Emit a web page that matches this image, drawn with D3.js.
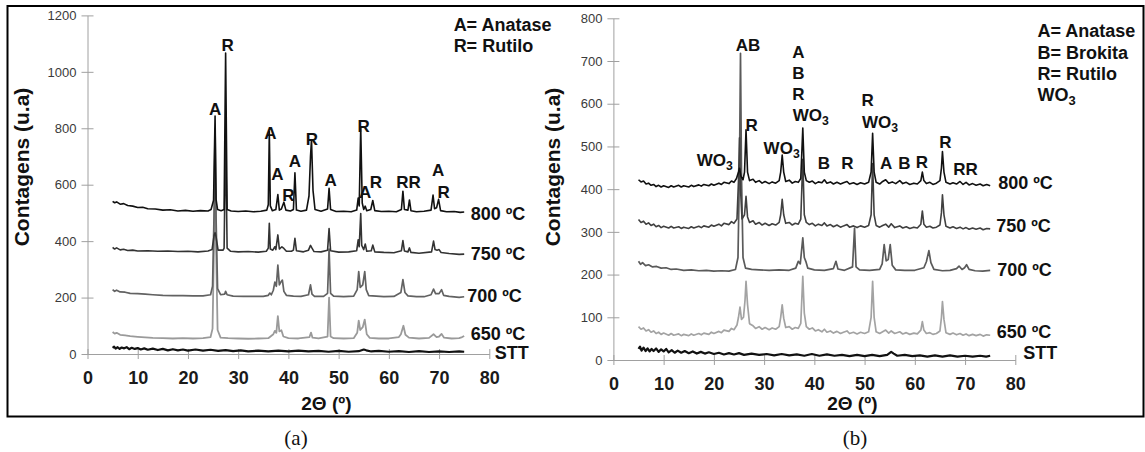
<!DOCTYPE html>
<html><head><meta charset="utf-8">
<script src="https://cdn.jsdelivr.net/npm/d3@7"></script>
<style>
body{margin:0;background:#fff}
svg{display:block}
</style>
</head><body>
<svg id="c" width="1145" height="452" font-family="Liberation Sans, Arial, sans-serif"></svg>
<script>
// ---------------- DATA ----------------
const thetaTicks = [0, 10, 20, 30, 40, 50, 60, 70, 80];
const countTicksA = [0, 200, 400, 600, 800, 1000, 1200];
const countTicksB = [0, 100, 200, 300, 400, 500, 600, 700, 800];
const seriesNames = ["800 ºC", "750 ºC", "700 ºC", "650 ºC", "STT"];

// Panel (a): [2θ, counts]
const a800 = [[5,541],[5.4,536],[5.8,539],[6.5,531],[7.2,533],[8,526],[9,524],[10,519],[11,520],[12,515],[13.5,514],[15,510],[16.5,511],[18,507],[19.5,509],[21,506],[22.5,508],[24,507],[24.6,512],[25.1,545],[25.4,843],[25.6,548],[25.9,512],[26.6,508],[27.2,512],[27.5,1067],[27.8,512],[28.6,507],[30,505],[31.5,507],[33,504],[34.5,506],[35.7,510],[36.0,530],[36.2,788],[36.4,525],[36.8,508],[37.5,512],[37.9,565],[38.2,510],[38.6,514],[39.1,538],[39.5,510],[40.4,507],[41.0,512],[41.3,642],[41.6,510],[42.5,506],[43.6,510],[44.1,560],[44.4,700],[44.6,759],[44.9,580],[45.3,512],[46.5,506],[47.8,514],[48.1,587],[48.4,512],[49.5,505],[51,506],[52.5,504],[53.6,510],[53.9,553],[54.1,525],[54.4,802],[54.7,535],[55.0,512],[55.3,524],[55.6,508],[56.4,512],[56.8,544],[57.2,508],[58.5,505],[60,506],[61.5,504],[62.5,512],[62.8,577],[63.1,512],[63.8,510],[64.1,546],[64.4,508],[65.5,504],[67,506],[68.4,510],[68.8,563],[69.1,515],[69.5,518],[69.9,548],[70.3,508],[71.5,504],[73,505],[74.2,502],[75,503]];
const a750 = [[5,378],[5.4,372],[5.8,376],[6.5,369],[7.2,371],[8,367],[9,368],[10,365],[12,366],[14,364],[16,365],[18,363],[20,364],[22,362],[24,365],[24.8,370],[25.2,420],[25.4,430],[25.6,415],[26,368],[27,368],[27.2,375],[27.5,780],[27.8,375],[28.5,364],[30,362],[32,363],[34,361],[35.6,364],[36.0,375],[36.2,463],[36.4,372],[36.9,368],[37.3,380],[37.5,370],[37.9,422],[38.2,372],[38.7,380],[39.1,374],[39.6,364],[40.6,364],[41.0,368],[41.3,410],[41.6,366],[43,362],[44.0,368],[44.4,385],[44.7,375],[45.1,363],[46.5,362],[47.8,368],[48.1,445],[48.4,366],[50,361],[52,362],[53.6,366],[53.9,405],[54.1,380],[54.4,498],[54.6,385],[55,370],[55.3,390],[55.6,364],[56.5,366],[56.8,386],[57.2,362],[59,360],[61,359],[62.5,366],[62.8,402],[63.1,365],[63.8,362],[64.1,376],[64.4,360],[66,357],[68.5,362],[68.9,400],[69.2,370],[69.6,368],[70.0,370],[70.4,360],[72,356],[74,353],[75,354]];
const a700 = [[5,228],[5.4,222],[5.8,226],[6.5,220],[7.5,219],[8.5,215],[10,214],[11.5,212],[13,210],[15,208],[17,207],[19,207],[21,206],[23,206],[24.5,210],[24.9,240],[25.2,500],[25.4,800],[25.6,480],[25.9,232],[26.5,210],[27.3,212],[27.5,222],[27.8,210],[29,205],[31,204],[33,204],[35,204],[36.0,208],[36.3,216],[36.6,210],[37.0,226],[37.3,255],[37.6,240],[37.9,315],[38.2,245],[38.5,255],[38.8,262],[39.1,222],[39.6,208],[41,205],[42.5,204],[44.0,210],[44.4,245],[44.7,212],[45.2,204],[47,204],[47.8,215],[48.1,372],[48.4,215],[49,205],[51,203],[53,205],[53.7,228],[54.0,292],[54.3,236],[54.8,245],[55.2,292],[55.5,228],[56,207],[57.5,205],[59,203],[61,204],[62.4,218],[62.8,264],[63.2,218],[63.8,206],[65.5,203],[67,203],[68.4,210],[68.9,230],[69.3,214],[70.0,214],[70.5,228],[70.9,208],[72,204],[74,201],[75,203]];
const a650 = [[5,78],[5.4,72],[5.8,75],[6.5,68],[7.5,66],[8.5,63],[10,61],[11.5,59],[13,57],[15,56],[17,55],[19,56],[21,55],[23,56],[24.5,60],[24.9,90],[25.2,400],[25.4,650],[25.6,380],[25.9,85],[26.5,58],[28,56],[30,55],[32,54],[34,55],[36,56],[37.0,70],[37.3,82],[37.6,75],[37.9,134],[38.2,80],[38.6,84],[39,62],[40,56],[42,55],[44.2,60],[44.5,76],[44.8,58],[46,55],[47.8,62],[48.1,200],[48.4,62],[49,56],[51,55],[53,56],[53.7,75],[54.0,118],[54.3,85],[54.8,95],[55.2,122],[55.6,70],[56.2,57],[58,55],[60,55],[62,60],[62.4,70],[62.9,100],[63.3,68],[64,58],[66,55],[68,57],[68.9,70],[69.5,60],[70.0,62],[70.5,71],[71,58],[72.5,55],[74,56],[74.6,60],[75,64]];
const aSTT = [[5,22],[5.3,26],[5.6,19],[6,24],[6.4,18],[6.8,23],[7.3,20],[7.8,24],[8.3,17],[8.8,22],[9.4,18],[10,21],[10.6,16],[11.3,20],[12,15],[13,19],[14,14],[15,18],[16,13],[17,17],[18,13],[19,16],[20,12],[21.5,16],[23,12],[24.5,15],[26,11],[27.5,14],[29,10],[30.5,13],[32,9],[34,12],[36,9],[38,12],[40,9],[42,12],[44,9],[46,11],[48,8],[50,11],[52,8],[54,10],[55,16],[55.5,13],[56.5,9],[58,11],[60,8],[62,10],[64,7],[66,10],[68,7],[70,9],[72,7],[74,9],[75,8]];

// Panel (b): [2θ, counts]
const b800 = [[5,422],[5.5,417],[6,419],[6.5,412],[7,414],[7.5,409],[8,411],[8.5,406],[9,409],[9.5,405],[10,408],[11,404],[11.5,408],[12,405],[13,409],[13.5,405],[14,408],[15,405],[15.5,409],[16,406],[17,410],[17.5,407],[18,411],[19,408],[19.5,412],[20,409],[21,414],[21.5,411],[22,416],[23,413],[23.5,419],[24,416],[24.5,425],[24.9,440],[25.1,449],[25.4,430],[25.8,422],[26.1,440],[26.4,539],[26.7,440],[27.1,420],[27.8,423],[28.3,416],[29,420],[29.6,414],[30.2,418],[31,413],[31.6,417],[32.3,414],[33,420],[33.3,440],[33.6,480],[33.9,440],[34.3,418],[35,421],[35.6,414],[36.2,418],[36.8,416],[37.3,425],[37.7,543],[38.0,440],[38.4,420],[39,416],[39.6,419],[40.2,413],[40.8,417],[41.5,415],[42,422],[42.5,414],[43.2,417],[43.8,412],[44.5,416],[45.2,412],[45.8,415],[46.5,418],[47,412],[47.8,415],[48.5,411],[49.2,415],[50,412],[50.8,416],[51.3,440],[51.6,531],[51.9,440],[52.3,416],[53,412],[53.6,418],[54.2,422],[54.8,414],[55.5,417],[56.2,413],[57,420],[57.6,413],[58.3,416],[59,411],[59.8,414],[60.5,412],[61.2,420],[61.5,440],[61.8,420],[62.3,413],[63,416],[63.6,411],[64.3,414],[65,420],[65.3,450],[65.5,488],[65.8,440],[66.2,416],[67,412],[67.6,415],[68.3,412],[69,418],[69.6,411],[70.2,416],[70.8,410],[71.5,413],[72.2,409],[73,412],[73.6,408],[74.3,411],[75,408]];
const b750 = [[5,329],[5.5,322],[6,325],[6.5,318],[7,321],[7.5,315],[8,318],[8.5,312],[9,315],[9.5,310],[10,313],[11,309],[11.5,313],[12,309],[13,312],[13.5,308],[14,311],[15,308],[15.5,312],[16,309],[17,313],[17.5,310],[18,314],[19,311],[19.5,316],[20,313],[21,318],[21.5,314],[22,320],[23,317],[23.5,324],[24,320],[24.6,330],[24.9,420],[25.1,520],[25.3,400],[25.6,330],[26.1,340],[26.4,383],[26.7,335],[27.1,322],[27.8,326],[28.3,318],[29,322],[29.6,316],[30.2,320],[31,315],[31.6,319],[32.3,316],[33,322],[33.3,340],[33.6,376],[33.9,340],[34.3,320],[35,322],[35.6,316],[36.2,320],[36.8,318],[37.3,330],[37.7,470],[38.0,340],[38.4,322],[39,317],[39.6,320],[40.2,314],[40.8,318],[41.5,315],[42,321],[42.5,314],[43.2,317],[43.8,312],[44.5,316],[45.2,311],[45.8,314],[46.5,317],[47,311],[47.8,314],[48.5,310],[49.2,314],[50,311],[50.8,315],[51.3,340],[51.6,460],[51.9,340],[52.3,315],[53,311],[53.6,315],[54.2,318],[54.8,311],[55.3,319],[56,310],[57,314],[57.6,309],[58.3,312],[59,308],[59.8,311],[60.5,309],[61.2,318],[61.5,349],[61.8,318],[62.3,311],[63,313],[63.6,309],[64.3,311],[65,316],[65.3,345],[65.5,387],[65.8,340],[66.2,313],[67,309],[67.6,312],[68.3,308],[69,311],[69.6,307],[70.2,310],[70.8,306],[71.5,309],[72.2,306],[73,309],[73.6,305],[74.3,308],[75,307]];
const b700 = [[5,231],[5.4,224],[5.8,228],[6.4,221],[7,223],[7.8,218],[8.6,219],[9.5,215],[10.5,216],[11.5,212],[12.5,213],[14,210],[15.5,211],[17,209],[18.5,210],[20,208],[21.5,209],[23,208],[24.3,212],[24.8,240],[25.1,450],[25.3,718],[25.5,430],[25.8,240],[26.3,215],[27.5,212],[29,211],[31,210],[33,211],[35,210],[36.3,215],[36.8,231],[37.2,225],[37.7,286],[38.0,240],[38.3,231],[38.7,215],[40,211],[42,210],[43.8,214],[44.3,231],[44.7,213],[46,210],[47.6,218],[48.0,309],[48.3,218],[49,211],[51,210],[53,212],[53.5,225],[53.9,270],[54.3,232],[54.7,235],[55.1,270],[55.5,222],[56.2,211],[58,210],[60,210],[61.8,216],[62.3,230],[62.8,256],[63.2,228],[63.8,212],[65.5,209],[67,210],[68.3,214],[68.8,220],[69.4,212],[69.9,216],[70.3,223],[70.8,212],[72,209],[73.5,208],[75,210]];
const b650 = [[5,78],[5.5,72],[6,75],[6.5,68],[7,71],[7.5,65],[8,68],[8.5,62],[9,65],[9.5,60],[10,63],[11,58],[11.5,62],[12,58],[13,61],[13.5,57],[14,60],[15,57],[15.5,61],[16,58],[17,62],[17.5,59],[18,63],[19,60],[19.5,65],[20,62],[21,67],[21.5,64],[22,70],[23,67],[23.5,74],[24,71],[24.6,82],[24.9,100],[25.2,124],[25.5,95],[25.9,100],[26.2,140],[26.4,184],[26.7,130],[27.1,85],[27.8,80],[28.3,74],[29,78],[29.6,72],[30.2,76],[31,71],[31.6,75],[32.3,72],[33,78],[33.3,100],[33.6,129],[33.9,98],[34.3,76],[35,78],[35.6,72],[36.2,76],[36.8,74],[37.3,86],[37.7,196],[38.0,110],[38.4,78],[39,72],[39.6,75],[40.2,68],[40.8,71],[41.5,66],[42,72],[42.5,65],[43.2,68],[43.8,63],[44.5,67],[45.2,62],[45.8,65],[46.5,68],[47,62],[47.8,65],[48.5,61],[49.2,65],[50,62],[50.8,66],[51.3,100],[51.6,184],[51.9,100],[52.3,66],[53,62],[53.6,66],[54.2,70],[54.8,63],[55.3,68],[56,62],[57,66],[57.6,61],[58.3,64],[59,60],[59.8,63],[60.5,61],[61.2,70],[61.5,90],[61.8,70],[62.3,62],[63,64],[63.6,60],[64.3,62],[65,68],[65.3,100],[65.5,137],[65.8,95],[66.2,64],[67,60],[67.6,63],[68.3,59],[69,62],[69.6,58],[70.2,61],[70.8,57],[71.5,60],[72.2,57],[73,60],[73.6,56],[74.3,59],[75,58]];
const bSTT = [[5,26],[5.3,31],[5.6,22],[6,29],[6.4,21],[6.8,27],[7.2,20],[7.6,26],[8,21],[8.5,27],[9,19],[9.5,25],[10,20],[10.5,26],[11,18],[11.6,23],[12.2,17],[12.8,22],[13.5,17],[14.2,21],[15,16],[15.8,20],[16.6,15],[17.4,19],[18.2,15],[19,18],[20,14],[21,17],[22,13],[23,16],[24,13],[25,16],[26,12],[27.5,15],[29,12],[30.5,14],[32,11],[33.5,14],[35,11],[36.5,13],[38,10],[39.5,14],[41,10],[42.5,13],[44,10],[45.5,12],[47,9],[48.5,12],[50,9],[51.5,12],[53,9],[54.5,12],[55.3,19],[55.8,15],[56.5,10],[58,12],[59.5,9],[61,11],[62.5,8],[64,11],[65.5,8],[67,11],[68.5,8],[70,10],[71.5,8],[73,10],[74.2,8],[75,10]];

// Peak labels: [text, 2θ, counts, anchor]
const peakLabelsA = [["A",25.4,867,"middle"],["R",27.9,1094,"middle"],["A",36.4,785,"middle"],["A",37.8,640,"middle"],["R",40.0,563,"middle"],["A",41.3,684,"middle"],["R",44.7,763,"middle"],["A",48.4,618,"middle"],["R",55.0,808,"middle"],["A",55.3,575,"middle"],["R",57.4,611,"middle"],["RR",63.9,611,"middle"],["A",69.8,652,"middle"],["R",70.9,575,"middle"]];
const peakLabelsB = [["AB",26.8,738,"middle"],["A",36.8,722,"middle"],["B",36.8,673,"middle"],["R",36.8,624,"middle"],["WO3",35.7,574,"start"],["R",27.5,550,"middle"],["WO3",16.6,469,"start"],["WO3",29.9,496,"start"],["B",41.9,461,"middle"],["R",46.6,461,"middle"],["R",50.6,609,"middle"],["WO3",49.5,558,"start"],["A",54.3,461,"middle"],["B",57.9,461,"middle"],["R",61.4,464,"middle"],["R",66.1,511,"middle"],["RR",70.1,447,"middle"]];
const legendA = ["A= Anatase", "R= Rutilo"];
const legendB = ["A= Anatase", "B= Brokita", "R= Rutilo", "WO3"];
const legendPosA = [[72.9,1169],[72.9,1095]];
const legendPosB = [[84.4,772],[84.4,720],[84.4,671],[84.4,621]];
const seriesLabelPosA = [[76.3,499],[76.3,357],[75.6,209],[76.3,73],[81.1,6]];
const seriesLabelPosB = [[76.6,415],[76.2,314],[76.4,211],[76.3,66],[81.6,17]];

// ---------------- DRAWING ----------------
const SANS = "Liberation Sans, Arial, sans-serif";
const svg = d3.select("#c");
svg.append("rect").attr("x",7.5).attr("y",6).attr("width",1136).attr("height",410.5)
  .attr("fill","none").attr("stroke","#000").attr("stroke-width",2);

function addText(g, txt, x, y, size, anchor, weight, fill) {
  const t = g.append("text").attr("x", x).attr("y", y + size * 0.36)
    .attr("text-anchor", anchor).attr("font-size", size).attr("font-family", SANS)
    .attr("font-weight", weight || "bold").attr("fill", fill || "#111");
  if (txt.endsWith("O3")) {
    t.append("tspan").text(txt.slice(0, -1));
    t.append("tspan").attr("font-size", size * 0.72).attr("dy", size * 0.22).text("3");
  } else t.text(txt);
  return t;
}

function panel(cfg) {
  const x = d3.scaleLinear().domain([0, 80]).range([cfg.x0, cfg.x1]);
  const y = d3.scaleLinear().domain([0, cfg.ymax]).range([cfg.y0, cfg.y1]);
  const g = svg.append("g");

  // y axis
  const ya = g.append("g").attr("transform", `translate(${cfg.x0},0)`)
    .call(d3.axisLeft(y).tickValues(cfg.yTicks).tickFormat(d3.format("d"))
      .tickSize(6).tickSizeOuter(0).tickPadding(5));
  ya.select(".domain").attr("stroke", "#a0a0a0");
  ya.selectAll(".tick line").attr("x1", 6).attr("x2", -6).attr("stroke", "#a0a0a0");
  ya.selectAll(".tick text").attr("font-size", 13).attr("fill", "#3a3a3a").attr("font-family", SANS);

  // x axis
  const xa = g.append("g").attr("transform", `translate(0,${cfg.y0})`)
    .call(d3.axisBottom(x).tickValues(thetaTicks).tickFormat(d3.format("d"))
      .tickSize(5).tickSizeOuter(0).tickPadding(12));
  xa.select(".domain").attr("stroke", "#a0a0a0");
  xa.selectAll(".tick line").attr("y1", -5).attr("y2", 5).attr("stroke", "#a0a0a0");
  xa.selectAll(".tick text").attr("font-size", 18).attr("font-weight", "bold").attr("fill", "#1a1a1a")
    .attr("font-family", SANS);

  // titles
  addText(g, "2Θ (º)", (cfg.x0 + cfg.x1) / 2 + 38, 403, 19, "middle");
  g.append("text").attr("transform", `translate(${cfg.ytX},167) rotate(-90)`)
    .attr("text-anchor", "middle").attr("dy", "0.36em").attr("font-size", 21).attr("font-family", SANS)
    .attr("font-weight", "bold").attr("fill", "#111").text("Contagens (u.a)");

  // lines
  const line = d3.line().x(d => x(d[0])).y(d => y(d[1]));
  cfg.series.forEach((s, i) => {
    g.append("path").datum(s).attr("d", line).attr("fill", "none")
      .attr("stroke", cfg.colors[i]).attr("stroke-width", cfg.widths[i])
      .attr("stroke-linejoin", "round");
  });

  // series labels (order of seriesNames: 800, 750, 700, 650, STT)
  seriesNames.forEach((n, i) => {
    const p = cfg.seriesPos[i];
    addText(g, n, x(p[0]), y(p[1]), 18, "start");
  });
  // peak labels
  cfg.peaks.forEach(p => addText(g, p[0], x(p[1]), y(p[2]), 17, p[3]));
  // legend
  cfg.legend.forEach((t, i) => addText(g, t, x(cfg.legendPos[i][0]), y(cfg.legendPos[i][1]), 18, "start"));
  // caption
  g.append("text").attr("x", cfg.capX).attr("y", 445).attr("text-anchor", "middle")
    .attr("font-family", "Liberation Serif, Times New Roman, serif").attr("font-size", 21)
    .attr("fill", "#111").text(cfg.caption);
}

// draw order: STT, 650, 700, 750, 800
panel({
  x0: 87.5, x1: 489.3, y0: 354, y1: 15.4, ymax: 1200, yTicks: countTicksA, ytX: 21.5,
  series: [aSTT, a650, a700, a750, a800],
  colors: ["#111", "#9a9a9a", "#626262", "#333", "#111"],
  widths: [2.2, 1.8, 1.7, 1.6, 1.6],
  seriesPos: seriesLabelPosA, peaks: peakLabelsA, legend: legendA, legendPos: legendPosA,
  caption: "(a)", capX: 296
});
panel({
  x0: 613.4, x1: 1015.3, y0: 360, y1: 18.3, ymax: 800, yTicks: countTicksB, ytX: 552.5,
  series: [bSTT, b650, b700, b750, b800],
  colors: ["#111", "#a3a3a3", "#5a5a5a", "#404040", "#111"],
  widths: [2.2, 1.7, 1.7, 1.6, 1.6],
  seriesPos: seriesLabelPosB, peaks: peakLabelsB, legend: legendB, legendPos: legendPosB,
  caption: "(b)", capX: 855
});
</script>
</body></html>
